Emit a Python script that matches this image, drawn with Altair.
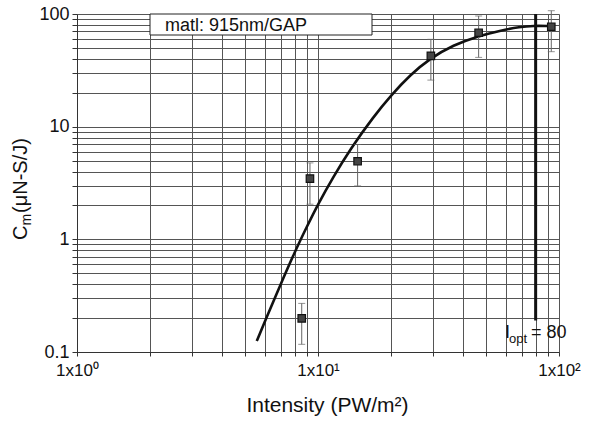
import altair as alt
import pandas as pd

# Measured coupling coefficient vs. laser intensity
intensity = [8.56, 9.26, 14.6, 29.4, 46.4, 92.9]
cm = [0.199, 3.46, 4.93, 42.5, 68.2, 77.1]
cm_low = [0.117, 2.05, 2.98, 25.9, 41.2, 46.3]
cm_high = [0.27, 4.77, 6.95, 59.6, 96.0, 107.0]

# Fitted curve
fit_x = [5.57, 6.0, 7.0, 8.0, 9.0, 10.0, 11.57, 13.6, 16.96, 20.2,
         24.1, 29.2, 36.4, 46.2, 56.9, 68.9, 78.2, 91.8]
fit_y = [0.125, 0.184, 0.40, 0.77, 1.30, 2.05, 3.58, 6.3, 12.2, 19.2,
         28.7, 40.4, 53.0, 63.7, 71.1, 77.1, 78.7, 78.2]

# Optimum intensity marker
i_opt = 80
i_opt_rule_bottom = 0.19

x_grid = [1, 2, 3, 4, 5, 6, 7, 8, 9, 10, 20, 30, 40, 50, 60, 70, 80, 90, 100]
y_grid = [0.1, 0.2, 0.3, 0.4, 0.5, 0.6, 0.7, 0.8, 0.9,
          1, 2, 3, 4, 5, 6, 7, 8, 9,
          10, 20, 30, 40, 50, 60, 70, 80, 90, 100]

FONT = "Liberation Sans"
W, H = 482, 338

pts = pd.DataFrame({"x": intensity, "y": cm, "lo": cm_low, "hi": cm_high})
fit = pd.DataFrame({"x": fit_x, "y": fit_y})
opt = pd.DataFrame({"x": [i_opt], "y": [100], "y2": [i_opt_rule_bottom]})

xs = alt.Scale(type="log", domain=[1, 100], nice=False)
ys = alt.Scale(type="log", domain=[0.1, 100], nice=False)

x_axis = alt.Axis(
    values=x_grid,
    labelExpr="datum.value == 1 ? '1x10⁰' : datum.value == 10 ? '1x10¹' : datum.value == 100 ? '1x10²' : ''",
    labelOverlap=False, labelFlush=False,
    title="Intensity (PW/m²)",
    titleFontSize=21, titleFontWeight="normal", titleFont=FONT, titlePadding=16,
    titleColor="#111", titleX=250,
    labelFont=FONT, labelFontSize=17, labelColor="#111", labelPadding=6,
    grid=True, gridColor="#555", gridWidth=1,
    ticks=True, tickSize=4, tickColor="#333",
    domainColor="#333",
)
y_axis = alt.Axis(
    values=y_grid,
    labelExpr="datum.value == 0.1 ? '0.1' : datum.value == 1 ? '1' : datum.value == 10 ? '10' : datum.value == 100 ? '100' : ''",
    labelOverlap=False, labelFlush=False,
    title=None,
    labelFont=FONT, labelFontSize=18, labelColor="#111", labelPadding=3,
    grid=True, gridColor="#555", gridWidth=1,
    ticks=True, tickSize=5, tickColor="#333",
    domainColor="#333",
)

curve = alt.Chart(fit).mark_line(color="#111", strokeWidth=2.6, interpolate="basis").encode(
    x=alt.X("x:Q", scale=xs, axis=x_axis),
    y=alt.Y("y:Q", scale=ys, axis=y_axis),
)

err = alt.Chart(pts).mark_rule(color="#666", strokeWidth=1).encode(
    x=alt.X("x:Q", scale=xs), y=alt.Y("lo:Q", scale=ys), y2="hi:Q"
)
cap_lo = alt.Chart(pts).mark_tick(color="#666", orient="horizontal", size=7, thickness=1).encode(
    x=alt.X("x:Q", scale=xs), y=alt.Y("lo:Q", scale=ys)
)
cap_hi = alt.Chart(pts).mark_tick(color="#666", orient="horizontal", size=7, thickness=1).encode(
    x=alt.X("x:Q", scale=xs), y=alt.Y("hi:Q", scale=ys)
)
markers = alt.Chart(pts).mark_square(size=56, fill="#444", stroke="#111", strokeWidth=1.2, opacity=1).encode(
    x=alt.X("x:Q", scale=xs), y=alt.Y("y:Q", scale=ys)
)

opt_rule = alt.Chart(opt).mark_rule(color="#111", strokeWidth=3).encode(
    x=alt.X("x:Q", scale=xs), y=alt.Y("y:Q", scale=ys), y2="y2:Q"
)

# Material label box
box = alt.Chart(pd.DataFrame({"a": [0]})).mark_rect(fill="white", stroke="#222", strokeWidth=1).encode(
    x=alt.value(73), x2=alt.value(295), y=alt.value(0), y2=alt.value(21)
)
box_text = alt.Chart(pd.DataFrame({"t": ["matl: 915nm/GAP"]})).mark_text(
    font=FONT, fontSize=18, align="left", baseline="alphabetic", color="#111"
).encode(x=alt.value(88), y=alt.value(17), text="t:N")


def label(txt, x, y, size, angle=0):
    return alt.Chart(pd.DataFrame({"t": [txt]})).mark_text(
        font=FONT, fontSize=size, align="left", baseline="alphabetic", color="#111", angle=angle
    ).encode(x=alt.value(x), y=alt.value(y), text="t:N")


# I_opt = 80
iopt_parts = [
    label("I", 428, 324, 18),
    label("opt", 432, 329, 13),
    label("= 80", 454, 324, 18),
]

# C_m(μN-S/J), rotated
ytitle_parts = [
    label("C", -50, 226, 20, 270),
    label("m", -46, 211.5, 14, 270),
    label("(μN-S/J)", -50, 199, 20, 270),
]

chart = alt.layer(
    curve, err, cap_lo, cap_hi, markers, opt_rule, box, box_text, *iopt_parts, *ytitle_parts
).properties(
    width=W, height=H,
    autosize=alt.AutoSizeParams(type="none"),
    padding={"left": 77, "top": 14, "right": 38, "bottom": 69},
    background="white",
).configure_view(stroke=None)

chart.save("out.html", embed_options={"renderer": "svg", "actions": False})
